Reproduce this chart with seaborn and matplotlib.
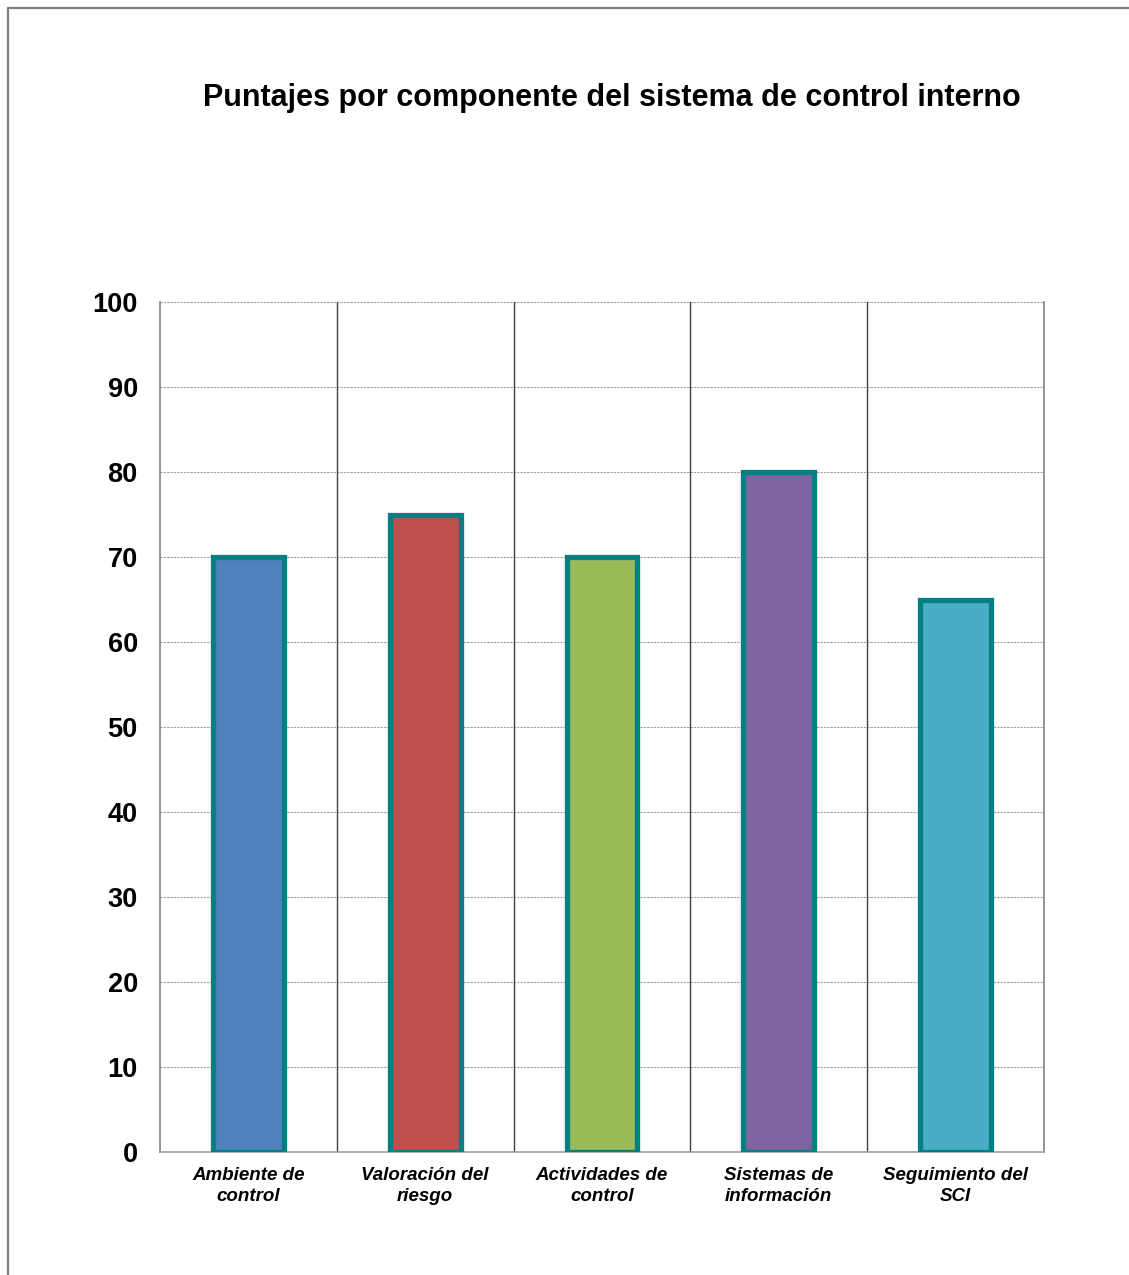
import numpy as np
import pandas as pd
import seaborn as sns
import matplotlib.pyplot as plt
from matplotlib.lines import Line2D

# Data
componentes = ["Ambiente de\ncontrol", "Valoración del\nriesgo", "Actividades de\ncontrol",
               "Sistemas de\ninformación", "Seguimiento del\nSCI"]
puntajes = [70, 75, 70, 80, 65]
colores = ["#4F81BD", "#C0504D", "#9BBB59", "#8064A2", "#4BACC6"]
titulo = "Puntajes por componente del sistema de control interno"

df = pd.DataFrame({"componente": componentes, "puntaje": puntajes})

sns.set_style("white")
plt.rcParams['font.family'] = ['Liberation Sans', 'DejaVu Sans']
plt.rcParams['text.color'] = 'black'
plt.rcParams['xtick.labelcolor'] = 'black'
plt.rcParams['ytick.labelcolor'] = 'black'

fig = plt.figure(figsize=(11.29, 12.75), dpi=100)
ax = fig.add_axes([160 / 1129, 1 - 1152 / 1275, 884 / 1129, 850 / 1275])

sns.barplot(data=df, x="componente", y="puntaje", hue="componente", palette=colores,
            saturation=1, width=0.4, edgecolor="#008080", linewidth=3.8, legend=False,
            ax=ax, zorder=3)

ax.set_ylim(0, 100)
ax.set_xlim(-0.5, len(componentes) - 0.5)
ax.set_yticks(np.arange(0, 101, 10))
ax.yaxis.grid(True, linestyle=(0, (2, 1)), color="#a0a0a0", linewidth=0.8, zorder=0)
for b in np.arange(0.5, len(componentes) - 0.5, 1):
    ax.axvline(b, color="#404040", linewidth=1.0, zorder=1)

ax.set_xlabel("")
ax.set_ylabel("")
ax.set_xticks(range(len(componentes)))
ax.set_xticklabels(componentes, fontsize=13.5, fontweight="bold", fontstyle="italic",
                   linespacing=1.3)
ax.set_xticks(np.arange(-0.5, len(componentes), 1), minor=True)
ax.tick_params(axis="x", which="major", length=0, pad=11)
ax.tick_params(axis="x", which="minor", length=6, width=1, color="#808080", direction="out")
ax.tick_params(axis="y", length=8, width=1, color="#808080", direction="out", labelsize=19.5, pad=8)
for t in ax.get_yticklabels():
    t.set_fontweight("bold")

ax.spines["top"].set_visible(False)
ax.spines["right"].set_color("#808080")
ax.spines["left"].set_color("#808080")
ax.spines["bottom"].set_color("#a0a0a0")
for s in ["left", "bottom", "right"]:
    ax.spines[s].set_linewidth(1.2)

fig.text(612 / 1129, 1 - 98 / 1275, titulo, ha="center", va="center",
         fontsize=22, fontweight="bold")

# chart area border (only top and left visible in the reference)
fig.add_artist(Line2D([7.5 / 1129, 7.5 / 1129], [1 - 7.5 / 1275, 0], transform=fig.transFigure,
                      color="#808080", linewidth=1.6))
fig.add_artist(Line2D([7.5 / 1129, 1], [1 - 7.5 / 1275, 1 - 7.5 / 1275], transform=fig.transFigure,
                      color="#808080", linewidth=1.6))

fig.savefig("out.png", dpi=100)
